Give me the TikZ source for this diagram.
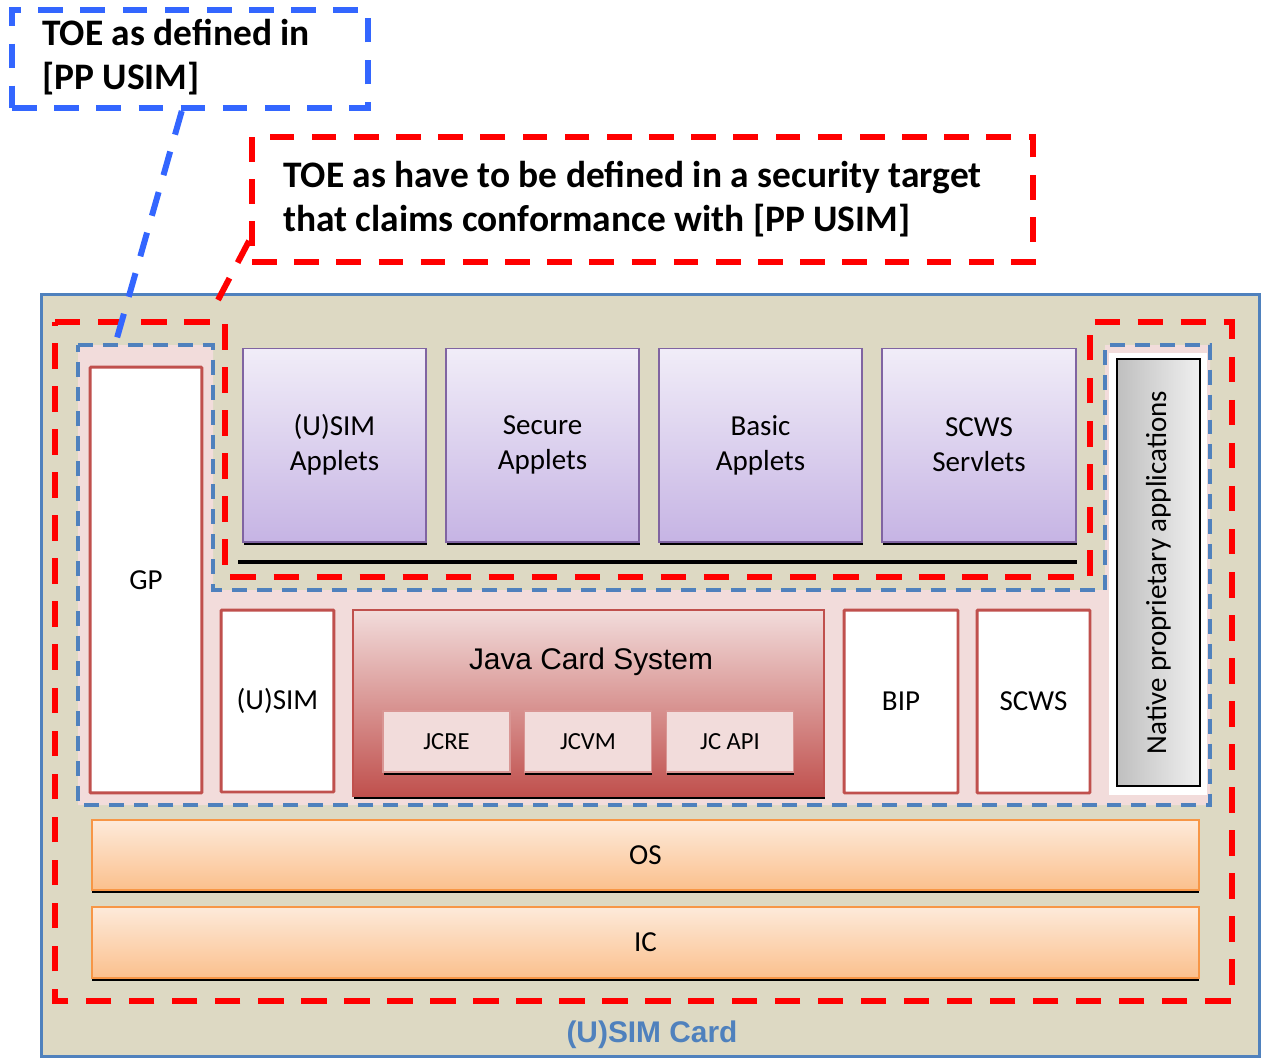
\documentclass[tikz,border=0pt]{standalone}
\usepackage{fontspec}
\setmainfont{Carlito}
\newfontfamily\arialfont{Liberation Sans}
\usetikzlibrary{shadows}
\definecolor{cardblue}{HTML}{4F81BD}
\definecolor{cardbeige}{HTML}{DDD9C3}
\definecolor{pprose}{HTML}{F2DCDB}
\definecolor{toered}{HTML}{FF0000}
\definecolor{toeblue}{HTML}{3366FF}
\definecolor{boxred}{HTML}{C0504D}
\definecolor{appletline}{HTML}{8064A2}
\definecolor{applettop}{HTML}{F1EDF8}
\definecolor{appletbot}{HTML}{C6B4E4}
\definecolor{osline}{HTML}{F79646}
\definecolor{ostop}{HTML}{FDEADA}
\definecolor{osbot}{HTML}{FBC08D}
\definecolor{jcline}{HTML}{D99694}
\begin{document}
\begin{tikzpicture}[x=0.02cm, y=-0.02cm,
    card/.style ={rectangle, draw=cardblue, fill=cardbeige, line width=1.7pt},
    toebound/.style ={draw=toered, line width=3.6pt, dash pattern=on 14.5pt off 10pt},
    ppbound/.style ={draw=cardblue, line width=2.2pt, dash pattern=on 8.5pt off 5.7pt},
    toenote/.style ={rectangle, line width=3.4pt, dash pattern=on 14pt off 10pt, fill=white},
    toelink/.style ={line width=3.4pt, dash pattern=on 14pt off 10pt},
    toetext/.style ={anchor=west, align=left, inner sep=0pt, font=\bfseries\fontsize{21.3}{25}\selectfont},
    sideblock/.style ={rectangle, draw=boxred, line width=1.7pt, fill=white,
        rounded corners=0.6pt, inner sep=0pt, font=\fontsize{16.5}{20}\selectfont},
    applet/.style ={rectangle, draw=appletline, line width=0.6pt, top color=applettop,
        bottom color=appletbot, align=center, minimum height=3.88cm, inner sep=0pt,
        font=\fontsize{16.5}{20}\selectfont,
        drop shadow={shadow xshift=0.4pt, shadow yshift=-1.6pt, fill=black, opacity=1}},
    jcpart/.style ={rectangle, draw=jcline, line width=0.8pt, fill=pprose,
        minimum width=2.54cm, minimum height=1.22cm, inner sep=0pt,
        font=\fontsize{14}{16}\selectfont,
        drop shadow={shadow xshift=0.3pt, shadow yshift=-1.5pt, fill=black, opacity=1}},
    layer/.style ={rectangle, draw=osline, line width=0.8pt, top color=ostop,
        bottom color=osbot, minimum width=22.14cm, inner sep=0pt,
        font=\fontsize{16.5}{20}\selectfont,
        drop shadow={shadow xshift=0pt, shadow yshift=-1.7pt, fill=black, opacity=1}}]
   \useasboundingbox (0,0) rectangle (1262,1059);
   % card and TOE areas
   \node[card, minimum width=24.38cm, minimum height=15.26cm] (card) at (650.5,675.5) {};
   \node[font=\arialfont\bfseries\fontsize{17}{20}\selectfont, text=cardblue] (cardname) at (652,1035) {(U)SIM Card};
   \fill[pprose] (78,345) -- (213,345) -- (213,590) -- (1105,590) -- (1105,345)
      -- (1210,345) -- (1210,805) -- (78,805) -- cycle;
   \draw[ppbound] (78,345) -- (213,345) -- (213,590) -- (1105,590) -- (1105,345)
      -- (1210,345) -- (1210,805) -- (78,805) -- cycle;
   \draw[toebound] (55,322) -- (225,322) -- (225,577) -- (1090,577) -- (1090,322)
      -- (1232,322) -- (1232,1001) -- (55,1001) -- cycle;
   % applications
   \node[applet, minimum width=3.66cm] (usimapp)  at (334.5,445) {(U)SIM\\Applets};
   \node[applet, minimum width=3.86cm] (secapp)   at (542.5,445) {Secure\\Applets};
   \node[applet, minimum width=4.06cm] (basicapp) at (760.5,445) {Basic\\Applets};
   \node[applet, minimum width=3.88cm] (scwsapp)  at (979,445)   {SCWS\\Servlets};
   \coordinate (apiL) at (238,562);
   \coordinate (apiR) at (1077,562);
   \draw[line width=2.3pt] (apiL) -- (apiR);
   % platform
   \node[sideblock, minimum width=2.24cm, minimum height=8.52cm] (gp)   at (146,580)    {GP};
   \node[sideblock, minimum width=2.26cm, minimum height=3.64cm] (usim) at (277.5,701)  {(U)SIM};
   \node[rectangle, draw=boxred, line width=1.2pt, top color=pprose, bottom color=boxred,
      minimum width=9.42cm, minimum height=3.72cm,
      drop shadow={shadow xshift=0.5pt, shadow yshift=-1.6pt, fill=black, opacity=1}] (jcs) at (588.5,703) {};
   \node[font=\arialfont\fontsize{17}{20}\selectfont] (jcsname) at (591,662) {Java Card System};
   \node[jcpart] (jcre)  at (446.5,741.5) {JCRE};
   \node[jcpart] (jcvm)  at (588,741.5)   {JCVM};
   \node[jcpart] (jcapi) at (730,741.5)   {JC API};
   \node[sideblock, minimum width=2.28cm, minimum height=3.66cm] (bip)  at (901,701.5)  {BIP};
   \node[sideblock, minimum width=2.26cm, minimum height=3.66cm] (scws) at (1033.5,701.5) {SCWS};
   \fill[white] (1109,353) rectangle (1207,795);
   \node[rectangle, rotate=90, draw=black, line width=1pt, left color=gray!50, right color=gray!12,
      minimum width=8.54cm, minimum height=1.66cm, inner sep=0pt,
      font=\fontsize{16.5}{20}\selectfont] (native) at (1158.5,572.5) {Native proprietary applications};
   \node[layer, minimum height=1.4cm]  (os) at (645.5,855)   {OS};
   \node[layer, minimum height=1.42cm] (ic) at (645.5,942.5) {IC};
   % TOE notes
   \node[toenote, draw=toeblue, minimum width=7.12cm, minimum height=1.96cm] (toepp) at (190,59) {};
   \node[toetext] (toepptext) at (42,57) {TOE as defined in\\{[PP USIM]}};
   \node[toenote, draw=toered, minimum width=15.62cm, minimum height=2.5cm] (toest) at (642.5,199.5) {};
   \node[toetext] (toesttext) at (283,199) {TOE as have to be defined in a security target\\that claims conformance with [PP USIM]};
   \coordinate (ppend) at (115,345);
   \coordinate (stend) at (218,300);
   \draw[toelink, toeblue] (toepp.-99) -- (ppend);
   \draw[toelink, toered] (toest.186) -- (stend);
 \end{tikzpicture}
\end{document}
